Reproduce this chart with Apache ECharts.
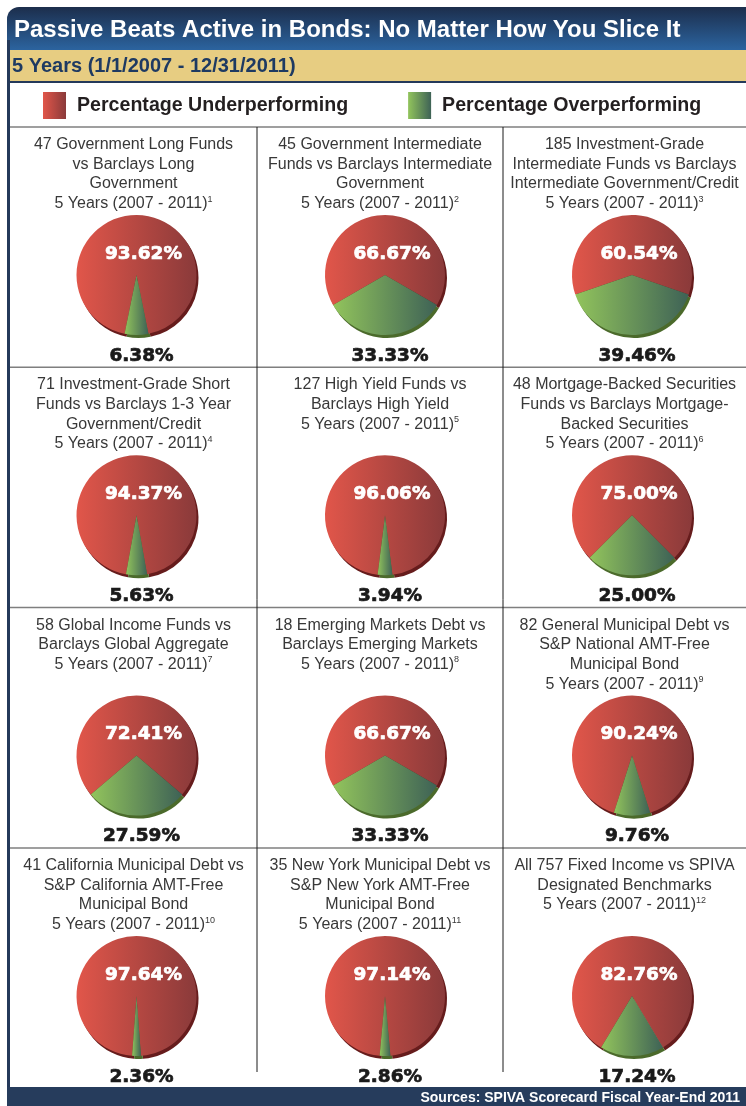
<!DOCTYPE html>
<html><head><meta charset="utf-8">
<script src="https://cdn.jsdelivr.net/npm/echarts@6/dist/echarts.min.js"></script>
<style>html,body{margin:0;padding:0;background:#fff}#c{width:746px;height:1106px}</style>
</head><body><div id="c"></div>
<script>
const mainTitle = 'Passive Beats Active in Bonds: No Matter How You Slice It';
const subTitle = '5 Years (1/1/2007 - 12/31/2011)';
const sourceText = 'Sources: SPIVA Scorecard Fiscal Year-End 2011';
const legendNames = ['Percentage Underperforming', 'Percentage Overperforming'];
const panelTitles = [
  ['47 Government Long Funds', 'vs Barclays Long', 'Government'],
  ['45 Government Intermediate', 'Funds vs Barclays Intermediate', 'Government'],
  ['185 Investment-Grade', 'Intermediate Funds vs Barclays', 'Intermediate Government/Credit'],
  ['71 Investment-Grade Short', 'Funds vs Barclays 1-3 Year', 'Government/Credit'],
  ['127 High Yield Funds vs', 'Barclays High Yield'],
  ['48 Mortgage-Backed Securities', 'Funds vs Barclays Mortgage-', 'Backed Securities'],
  ['58 Global Income Funds vs', 'Barclays Global Aggregate'],
  ['18 Emerging Markets Debt vs', 'Barclays Emerging Markets'],
  ['82 General Municipal Debt vs', 'S&P National AMT-Free', 'Municipal Bond'],
  ['41 California Municipal Debt vs', 'S&P California AMT-Free', 'Municipal Bond'],
  ['35 New York Municipal Debt vs', 'S&P New York AMT-Free', 'Municipal Bond'],
  ['All 757 Fixed Income vs SPIVA', 'Designated Benchmarks']
];
const periodLabel = '5 Years (2007 - 2011)';
const footnotes = ['1','2','3','4','5','6','7','8','9','10','11','12'];
const underperforming = [93.62, 66.67, 60.54, 94.37, 96.06, 75.00, 72.41, 66.67, 90.24, 97.64, 97.14, 82.76];
const overperforming  = [6.38, 33.33, 39.46, 5.63, 3.94, 25.00, 27.59, 33.33, 9.76, 2.36, 2.86, 17.24];

// layout
const F = '"Liberation Sans", Arial, Helvetica, sans-serif';
const colLines = [10, 257, 503, 746];
const rowTops = [127, 367.3, 607.6, 848];
const pieX = [136.5, 385, 632];
const R = 60;

const redGrad = {type:'linear', x:0, y:0, x2:1, y2:0, colorStops:[{offset:0, color:'#e1564a'},{offset:1, color:'#8a3a3a'}]};
const greenGrad = {type:'linear', x:0, y:0, x2:1, y2:0, colorStops:[{offset:0, color:'#92c45c'},{offset:1, color:'#3e6256'}]};

const chart = echarts.init(document.getElementById('c'), null, {renderer:'canvas'});

const graphics = [];
// title bar
graphics.push({type:'rect', shape:{x:7, y:7, width:780, height:44, r:[12,12,0,0]},
  style:{fill:{type:'linear', x:0, y:0, x2:0, y2:1, colorStops:[{offset:0,color:'#1c2e4c'},{offset:1,color:'#2c65a1'}]}}});
graphics.push({type:'rect', shape:{x:7, y:50, width:780, height:31}, style:{fill:'#e7cd82'}});
graphics.push({type:'rect', shape:{x:7, y:81, width:780, height:2}, style:{fill:'#24395a'}});
graphics.push({type:'rect', shape:{x:7, y:40, width:3, height:1060}, style:{fill:'#24395a'}});
graphics.push({type:'rect', shape:{x:7, y:1087, width:780, height:30, r:[0,0,0,8]}, style:{fill:'#263c5c'}});
graphics.push({type:'text', x:14, y:30, style:{text:mainTitle, fill:'#ffffff', fontFamily:F, fontWeight:'bold', fontSize:24, verticalAlign:'middle'}});
graphics.push({type:'text', x:12, y:66, style:{text:subTitle, fill:'#1e3a62', fontFamily:F, fontWeight:'bold', fontSize:20, verticalAlign:'middle'}});
graphics.push({type:'text', x:740, y:1098, style:{text:sourceText, fill:'#ffffff', fontFamily:F, fontWeight:'bold', fontSize:14, align:'right', verticalAlign:'middle'}});
// grid lines
rowTops.forEach(y => graphics.push({type:'line', shape:{x1:10, y1:y, x2:746, y2:y}, style:{stroke:'#7f7f7f', lineWidth:1.5}}));
[1,2].forEach(k => graphics.push({type:'line', shape:{x1:colLines[k], y1:127, x2:colLines[k], y2:1072}, style:{stroke:'#1a1a1a', lineWidth:1}}));

const series = [];
for (let i = 0; i < 12; i++) {
  const row = Math.floor(i/3), col = i % 3;
  const tx = (colLines[col] + colLines[col+1]) / 2;
  const lines = panelTitles[i];
  lines.forEach((t, k) => graphics.push({type:'text', x:tx, y:rowTops[row] + 17.5 + k*19.7,
    style:{text:t, fill:'#383838', fontFamily:F, fontSize:16, align:'center', verticalAlign:'middle'}}));
  graphics.push({type:'text', x:tx, y:rowTops[row] + 17.5 + lines.length*19.7,
    style:{text:'{m|' + periodLabel + '}{s|' + footnotes[i] + '}', align:'center', verticalAlign:'middle',
      rich:{m:{fontFamily:F, fontSize:16, fill:'#383838', lineHeight:18}, s:{fontFamily:F, fontSize:9, fill:'#383838', verticalAlign:'top', lineHeight:18}}}});

  const cx = pieX[col], cy = rowTops[row] + 148;
  const g = overperforming[i] / 100;
  const start = 270 - 180 * g;
  series.push({
    type:'pie', silent:true, z:1, center:[cx + 2, cy + 3], radius:R, startAngle:start, clockwise:true,
    animation:false, label:{show:false}, labelLine:{show:false}, emphasis:{disabled:true},
    data:[{value:underperforming[i], name:'s-under', itemStyle:{color:'#661c1c'}},
          {value:overperforming[i], name:'s-over', itemStyle:{color:'#4b6a2b'}}]
  });
  series.push({
    type:'pie', z:2, center:[cx, cy], radius:R, startAngle:start, clockwise:true, animation:false,
    emphasis:{disabled:true}, labelLine:{show:false}, avoidLabelOverlap:false,
    label:{show:true, position:'center', fontFamily:'"DejaVu Sans", sans-serif', fontWeight:'bold', fontSize:18.5,
      formatter: p => p.value.toFixed(2) + '%'},
    labelLayout: p => p.dataIndex === 0 ? {dx:7, dy:-21} : {dx:5, dy:81},
    data:[{value:underperforming[i], name:legendNames[0], itemStyle:{color:redGrad},
            label:{color:'#ffffff', textBorderColor:'#ffffff', textBorderWidth:0.7}},
          {value:overperforming[i], name:legendNames[1], itemStyle:{color:greenGrad},
            label:{color:'#1a1a1a', textBorderColor:'#1a1a1a', textBorderWidth:0.7}}]
  });
}

chart.setOption({
  backgroundColor:'#ffffff',
  animation:false,
  legend:{data:legendNames, left:43, top:92, padding:0, itemWidth:23, itemHeight:27, itemGap:60, icon:'rect',
    selectedMode:false,
    textStyle:{fontFamily:F, fontWeight:'bold', fontSize:19.6, color:'#231f20', padding:[0,0,0,6]}},
  graphic:{elements:graphics},
  series:series
});
</script></body></html>
